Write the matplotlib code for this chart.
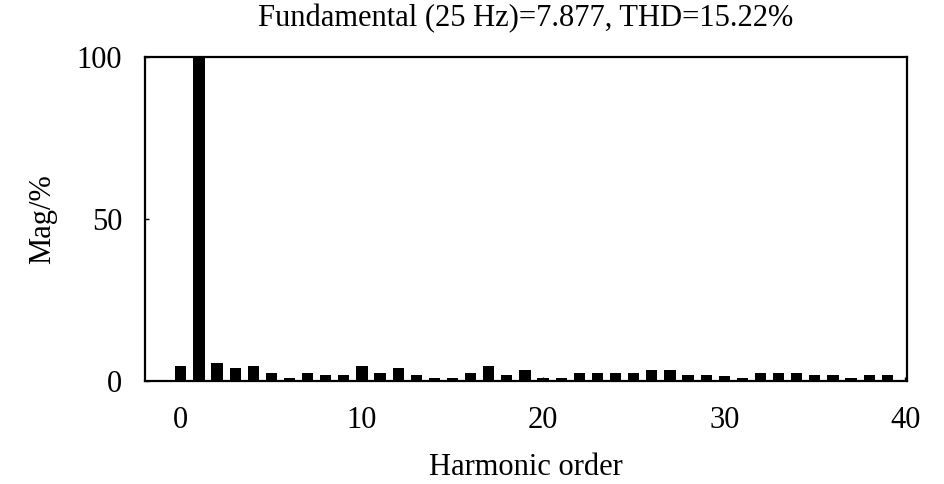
import matplotlib
matplotlib.use("Agg")
import matplotlib.pyplot as plt

harmonic_order = list(range(40))
magnitude = [4.6, 100, 5.6, 4.0, 4.6, 2.5, 0.9, 2.5, 1.8, 1.8,
             4.6, 2.5, 4.0, 1.8, 0.9, 0.9, 2.5, 4.6, 1.8, 3.3,
             0.8, 0.9, 2.5, 2.5, 2.5, 2.5, 3.3, 3.3, 1.8, 1.8,
             1.5, 0.9, 2.5, 2.5, 2.5, 1.8, 1.8, 0.9, 1.8, 1.8]
x_ticks = [0, 10, 20, 30, 40]
y_ticks = [0, 50, 100]
title = "Fundamental (25 Hz)=7.877, THD=15.22%"

plt.rcParams['font.family'] = ['Liberation Serif', 'DejaVu Serif']

fig = plt.figure(figsize=(9.45, 4.84), dpi=100)
ax = fig.add_axes([0.153, 0.213, 0.807, 0.669])
ax.bar(harmonic_order, magnitude, width=0.62, color='black')
ax.set_xlim(-2, 40.1)
ax.set_ylim(0, 100)
ax.set_xticks(x_ticks)
ax.set_yticks(y_ticks)
ax.tick_params(axis='both', labelsize=22, direction='in', length=3, width=1)
ax.tick_params(axis='y', pad=16)
ax.tick_params(axis='x', pad=18)
for s in ax.spines.values():
    s.set_linewidth(1.6)
ax.set_title(title, fontsize=22, pad=22)
ax.set_xlabel("Harmonic order", fontsize=22, labelpad=13)
ax.set_ylabel("Mag/%", fontsize=22, labelpad=14)
fig.savefig("out.png", dpi=100)
